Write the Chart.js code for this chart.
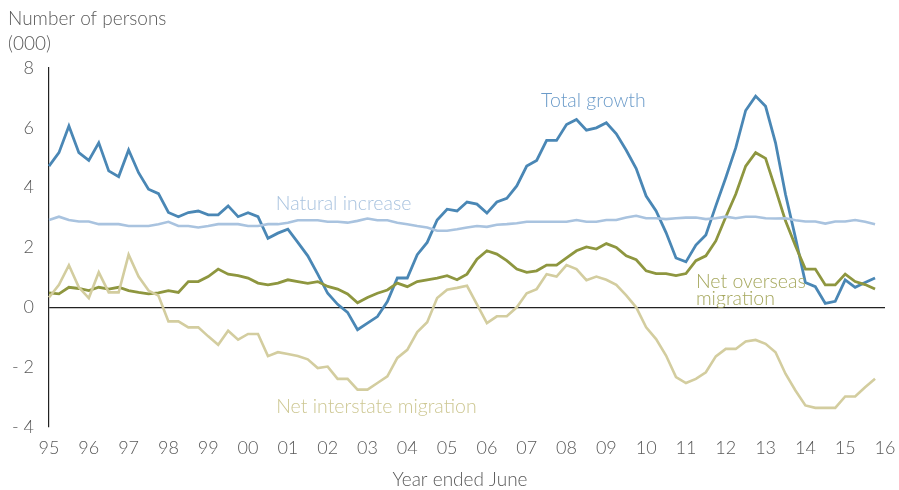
<!DOCTYPE html>
<html>
<head>
<meta charset="utf-8">
<script src="https://cdn.jsdelivr.net/npm/chart.js@4/dist/chart.umd.min.js"></script>
<style>
  html, body { margin: 0; padding: 0; background: #ffffff; }
  #wrap { width: 899px; height: 490px; position: relative; }
</style>
</head>
<body>
<div id="wrap"><canvas id="c" width="899" height="490"></canvas></div>
<script>
// Tick labels (year ended June), one per June quarter
const years = ['95','96','97','98','99','00','01','02','03','04','05','06','07','08','09','10','11','12','13','14','15','16'];

// Quarterly series, thousands of persons (Jun-95 .. Mar-16)
const totalGrowth = [
  4.72, 5.17, 6.06, 5.17, 4.91, 5.50, 4.56, 4.37, 5.26, 4.50, 3.95, 3.80, 3.17, 3.03, 3.17,
  3.22, 3.09, 3.09, 3.39, 3.03, 3.16, 3.03, 2.31, 2.48, 2.61, 2.17, 1.72, 1.11, 0.47, 0.10,
  -0.17, -0.75, -0.53, -0.31, 0.19, 0.98, 0.98, 1.76, 2.17, 2.92, 3.28, 3.22, 3.52, 3.45, 3.15,
  3.52, 3.64, 4.06, 4.72, 4.91, 5.58, 5.58, 6.11, 6.28, 5.92, 6.00, 6.17, 5.80, 5.25,
  4.64, 3.72, 3.22, 2.50, 1.65, 1.52, 2.08, 2.42, 3.39, 4.33, 5.33, 6.58, 7.06, 6.72, 5.50,
  3.78, 2.33, 0.83, 0.69, 0.13, 0.20, 0.92, 0.67, 0.83, 0.98
];
const naturalIncrease = [
  2.92, 3.03, 2.92, 2.87, 2.87, 2.78, 2.78, 2.78, 2.72, 2.72, 2.72, 2.78, 2.86, 2.72, 2.72,
  2.67, 2.72, 2.78, 2.78, 2.78, 2.72, 2.72, 2.78, 2.78, 2.83, 2.91, 2.91, 2.91, 2.86, 2.86,
  2.83, 2.89, 2.97, 2.91, 2.91, 2.83, 2.78, 2.72, 2.67, 2.56, 2.56, 2.61, 2.67, 2.72, 2.69,
  2.76, 2.78, 2.81, 2.86, 2.86, 2.86, 2.86, 2.86, 2.92, 2.86, 2.86, 2.92, 2.92, 3.00,
  3.06, 2.98, 2.98, 2.95, 2.98, 3.00, 3.00, 2.95, 2.98, 3.03, 2.98, 3.03, 3.03, 2.98, 2.97,
  2.98, 2.91, 2.87, 2.87, 2.80, 2.87, 2.87, 2.92, 2.86, 2.78
];
const netOverseas = [
  0.48, 0.45, 0.67, 0.63, 0.56, 0.67, 0.61, 0.67, 0.56, 0.50, 0.45, 0.48, 0.56, 0.50, 0.86,
  0.86, 1.03, 1.28, 1.11, 1.06, 0.98, 0.81, 0.75, 0.81, 0.92, 0.86, 0.80, 0.86, 0.70, 0.61,
  0.45, 0.15, 0.33, 0.47, 0.58, 0.81, 0.69, 0.86, 0.92, 0.98, 1.06, 0.92, 1.11, 1.61, 1.89,
  1.78, 1.56, 1.28, 1.17, 1.22, 1.41, 1.41, 1.65, 1.89, 2.02, 1.95, 2.13, 2.00, 1.72,
  1.59, 1.22, 1.13, 1.13, 1.06, 1.13, 1.56, 1.72, 2.22, 3.02, 3.78, 4.72, 5.17, 4.98, 3.95,
  2.89, 2.06, 1.28, 1.28, 0.75, 0.75, 1.11, 0.86, 0.76, 0.61
];
const netInterstate = [
  0.33, 0.75, 1.41, 0.67, 0.31, 1.17, 0.50, 0.50, 1.76, 1.03, 0.56, 0.39, -0.47, -0.47, -0.67,
  -0.67, -0.97, -1.25, -0.78, -1.08, -0.89, -0.89, -1.63, -1.50, -1.56, -1.63, -1.74, -2.03, -1.98, -2.39,
  -2.39, -2.75, -2.75, -2.53, -2.31, -1.69, -1.42, -0.83, -0.50, 0.31, 0.59, 0.65, 0.72, 0.10, -0.53,
  -0.30, -0.30, 0.00, 0.47, 0.61, 1.11, 1.03, 1.41, 1.28, 0.91, 1.03, 0.92, 0.75, 0.40,
  0.00, -0.67, -1.06, -1.61, -2.33, -2.53, -2.39, -2.17, -1.64, -1.39, -1.39, -1.14, -1.09, -1.22, -1.50,
  -2.22, -2.78, -3.28, -3.36, -3.36, -3.36, -2.98, -2.98, -2.67, -2.39
];

// Quarter categories: a year label at each June quarter, blanks between
const quarters = [];
years.forEach((y, k) => {
  quarters.push(y);
  if (k < years.length - 1) quarters.push('', '', '');
});

const FONT = "Lato, 'Open Sans', sans-serif";
const TEXT = '#595959';

const seriesLabels = [
  { lines: ['Total growth'], x: 54.7, y: 6.92, align: 'center', color: '#6b9bc9' },
  { lines: ['Natural increase'], x: 29.6, y: 3.45, align: 'center', color: '#a9c3df' },
  { lines: ['Net overseas', 'migration'], x: 65.0, y: 0.85, align: 'left', color: '#a6a85e' },
  { lines: ['Net interstate migration'], x: 32.9, y: -3.32, align: 'center', color: '#cdc792' }
];

const textPlugin = {
  id: 'textPlugin',
  afterDraw(chart) {
    const ctx = chart.ctx;
    const xs = chart.scales.x, ys = chart.scales.y;
    ctx.save();
    ctx.textBaseline = 'middle';
    ctx.font = '300 19px ' + FONT;
    ctx.fillStyle = TEXT;
    ctx.textAlign = 'left';
    ctx.fillText('Number of persons', 8, 19);
    ctx.fillText('(000)', 8, 44);
    ctx.textAlign = 'center';
    ctx.fillText('Year ended June', 460, 480);
    ctx.font = '300 19.5px ' + FONT;
    seriesLabels.forEach(l => {
      ctx.fillStyle = l.color;
      ctx.textAlign = l.align;
      const px = xs.getPixelForValue(l.x);
      const py = ys.getPixelForValue(l.y);
      l.lines.forEach((t, k) => ctx.fillText(t, px, py + k * 17));
    });
    ctx.restore();
  }
};

const ds = (label, data, color, w) => ({
  label, data, borderColor: color, backgroundColor: color,
  borderWidth: w, pointRadius: 0, tension: 0, fill: false
});

new Chart(document.getElementById('c'), {
  type: 'line',
  data: {
    labels: quarters,
    datasets: [
      ds('Net interstate migration', netInterstate, '#d3cd9f', 2.6),
      ds('Natural increase', naturalIncrease, '#a9c3df', 2.6),
      ds('Net overseas migration', netOverseas, '#8e963f', 2.8),
      ds('Total growth', totalGrowth, '#4a87b5', 2.8)
    ]
  },
  options: {
    responsive: false,
    animation: false,
    layout: { padding: { left: 0, right: 0, top: 68, bottom: 0 } },
    plugins: { legend: { display: false }, tooltip: { enabled: false } },
    scales: {
      x: {
        type: 'category',
        offset: false,
        grid: { display: false, drawTicks: false },
        border: { display: false },
        ticks: {
          autoSkip: false, maxRotation: 0, minRotation: 0, padding: 10,
          color: TEXT, font: { family: FONT, size: 18, weight: 300 },
          callback: function (v, i) { return i % 4 === 0 ? years[i / 4] : null; }
        },
        afterFit: s => { s.height = 63; s.paddingRight = 14; s.paddingLeft = 0; }
      },
      y: {
        min: -4, max: 8,
        grid: {
          drawTicks: false,
          color: c => c.tick && c.tick.value === 0 ? '#222222' : 'rgba(0,0,0,0)',
          lineWidth: 1.2
        },
        border: { display: true, color: '#222222', width: 1.2 },
        ticks: {
          stepSize: 2, padding: 15, color: TEXT,
          font: { family: FONT, size: 18, weight: 300 },
          callback: v => v < 0 ? '- ' + Math.abs(v) : String(v)
        },
        afterFit: s => { s.width = 49; }
      }
    }
  },
  plugins: [textPlugin]
});
</script>
</body>
</html>
